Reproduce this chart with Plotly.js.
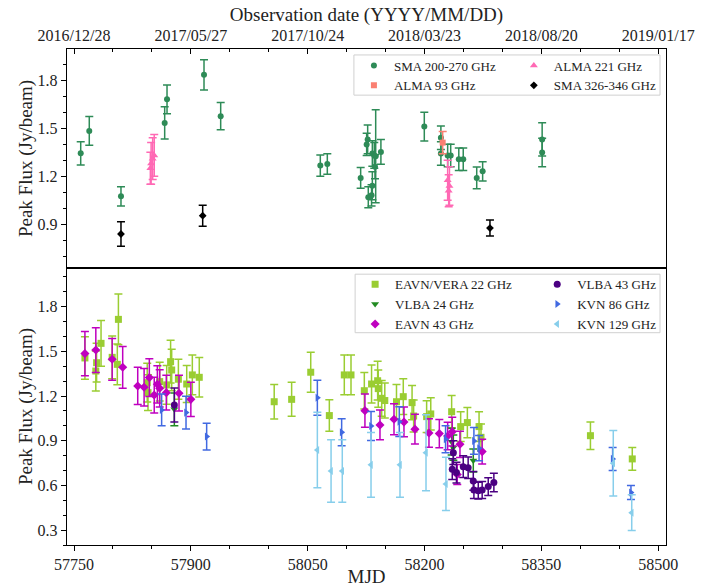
<!DOCTYPE html>
<html>
<head>
<meta charset="utf-8">
<script src="https://cdn.plot.ly/plotly-3.0.1.min.js"></script>
<style>html,body{margin:0;padding:0;background:#fff;}#chart{width:724px;height:587px;}</style>
</head>
<body>
<div id="chart"></div>
<script>
// ---------- Top panel data ----------
const sma230_mjd = [57758.6,57769.6,57810.3,57866.4,57869.4,57916.9,57938.3,58066.2,58075.2,58118,58125.7,58127,58127.8,58132,58133,58133,58135.5,58136.4,58137.3,58144,58199.7,58221,58221,58229.7,58233.6,58244,58249.7,58267,58274.6,58351,58351];
const sma230_flux = [1.343,1.483,1.075,1.533,1.68,1.833,1.575,1.267,1.277,1.19,1.399,1.43,1.069,1.081,1.141,1.342,1.33,1.26,1.325,1.352,1.51,1.44,1.342,1.33,1.33,1.306,1.306,1.19,1.231,1.43,1.348];
const sma230_err  = [0.073,0.09,0.06,0.10,0.09,0.094,0.085,0.066,0.064,0.065,0.07,0.09,0.066,0.066,0.088,0.08,0.08,0.075,0.29,0.077,0.09,0.073,0.073,0.07,0.07,0.07,0.07,0.068,0.06,0.104,0.089];

const alma93_mjd = [58223.3];
const alma93_flux = [1.41];
const alma93_err = [0.07];

const alma221_mjd = [57848,57849,57851,57853,58229.7,58231,58232];
const alma221_flux = [1.25,1.28,1.31,1.33,1.175,1.11,1.14];
const alma221_err = [0.10,0.13,0.13,0.13,0.125,0.10,0.12];

const sma340_mjd = [57810.3,57915.2,58284];
const sma340_flux = [0.84,0.954,0.877];
const sma340_err = [0.077,0.065,0.05];

// ---------- Bottom panel data ----------
const eavn22_mjd = [57764,57778,57779,57784.7,57799,57805.6,57807,57844,57845,57860,57869,57874,57875.4,57884,57894.7,57901.9,57910.8,58007,58029.4,58053.9,58077.8,58097,58105.6,58122.7,58132,58139.8,58140.6,58145,58149,58164,58172.7,58184,58186,58202.7,58208,58234.8,58246.4,58255,58270,58272.5,58413,58466.7];
const eavn22_flux = [1.456,1.368,1.424,1.554,1.46,1.413,1.715,1.29,1.223,1.297,1.275,1.431,1.375,1.313,1.281,1.342,1.326,1.162,1.178,1.36,1.069,1.342,1.342,1.236,1.281,1.303,1.25,1.185,1.17,1.162,1.196,1.156,1.066,1.062,1.08,1.095,0.995,1.022,0.995,0.923,0.934,0.778];
const eavn22_err = [0.143,0.134,0.13,0.154,0.144,0.137,0.17,0.13,0.12,0.13,0.13,0.143,0.14,0.134,0.124,0.133,0.133,0.116,0.114,0.134,0.106,0.134,0.134,0.123,0.128,0.13,0.125,0.12,0.117,0.116,0.12,0.115,0.107,0.106,0.108,0.108,0.1,0.102,0.1,0.09,0.092,0.076];

const vlba24_mjd = [57878.8,58234.8,58237,58262.6];
const vlba24_flux = [1.111,0.894,0.854,0.767];
const vlba24_err = [0.11,0.09,0.085,0.077];

const eavn43_mjd = [57764,57778,57799,57812.5,57831.8,57840,57846.7,57853,57857,57860,57868.5,57884.8,57900,58123.5,58142.8,58160.8,58173.6,58187.7,58205.7,58219,58229.7,58235.6,58242,58245.5,58274];
const eavn43_flux = [1.485,1.509,1.447,1.393,1.268,1.259,1.324,1.207,1.279,1.252,1.223,1.219,1.178,1.102,1.006,1.044,1.026,0.978,0.952,0.948,0.932,0.961,0.673,0.876,0.827];
const eavn43_err = [0.149,0.15,0.14,0.14,0.125,0.126,0.127,0.12,0.125,0.125,0.117,0.12,0.115,0.112,0.1,0.104,0.1,0.1,0.095,0.095,0.093,0.096,0.067,0.088,0.083];

const vlba43_mjd = [57878.8,58237,58235.6,58241,58249.7,58256,58262.6,58263.4,58269,58274,58281.8,58289];
const vlba43_flux = [1.14,0.82,0.709,0.686,0.726,0.719,0.63,0.57,0.565,0.57,0.592,0.619];
const vlba43_err = [0.114,0.08,0.07,0.069,0.073,0.072,0.063,0.057,0.057,0.057,0.06,0.062];

const kvn86_mjd = [57862.5,57893.8,57920.3,58062.4,58093.6,58131.3,58167.6,58227,58263.4,58270,58441.5,58465];
const kvn86_flux = [1.107,1.089,0.928,1.189,0.957,0.999,1.028,0.91,0.899,0.85,0.778,0.552];
const kvn86_err = [0.107,0.11,0.09,0.117,0.09,0.098,0.1,0.09,0.09,0.085,0.077,0.047];

const kvn129_mjd = [58062.4,58080,58094.4,58131.3,58168.5,58201.9,58227.5,58442.3,58466];
const kvn129_flux = [0.838,0.697,0.697,0.738,0.738,0.82,0.61,0.749,0.417];
const kvn129_err = [0.254,0.21,0.21,0.218,0.218,0.255,0.179,0.22,0.12];

// ticks
const mjdTicks = [57750,57900,58050,58200,58350,58500];
const dateLabels = ['2016/12/28','2017/05/27','2017/10/24','2018/03/23','2018/08/20','2019/01/17'];

const FONT = 'Liberation Serif, DejaVu Serif, serif';

function tr(name, x, y, e, color, symbol, xa, ya, leg, size) {
  return {
    type: 'scatter', mode: 'markers', name: name, x: x, y: y,
    xaxis: xa, yaxis: ya, legend: leg,
    marker: {color: color, symbol: symbol, size: size || 7},
    error_y: {type: 'data', array: e, visible: true, color: color, thickness: 1.5, width: 4}
  };
}

const data = [
  tr('SMA 200-270 GHz', sma230_mjd, sma230_flux, sma230_err, '#2E8B57', 'circle', 'x2', 'y2', 'legend', 6),
  tr('ALMA 93 GHz', alma93_mjd, alma93_flux, alma93_err, '#FA8072', 'square', 'x2', 'y2', 'legend', 6),
  tr('ALMA 221 GHz', alma221_mjd, alma221_flux, alma221_err, '#FF69B4', 'triangle-up', 'x2', 'y2', 'legend2', 7),
  tr('SMA 326-346 GHz', sma340_mjd, sma340_flux, sma340_err, '#000000', 'diamond', 'x2', 'y2', 'legend2', 6),

  tr('EAVN/VERA 22 GHz', eavn22_mjd, eavn22_flux, eavn22_err, '#9ACD32', 'square', 'x', 'y', 'legend3', 7),
  tr('VLBA 24 GHz', vlba24_mjd, vlba24_flux, vlba24_err, '#228B22', 'triangle-down', 'x', 'y', 'legend3', 7),
  tr('EAVN 43 GHz', eavn43_mjd, eavn43_flux, eavn43_err, '#BF00BF', 'diamond', 'x', 'y', 'legend3', 7),
  tr('VLBA 43 GHz', vlba43_mjd, vlba43_flux, vlba43_err, '#4B0082', 'circle', 'x', 'y', 'legend4', 7),
  tr('KVN 86 GHz', kvn86_mjd, kvn86_flux, kvn86_err, '#4169E1', 'triangle-right', 'x', 'y', 'legend4', 7),
  tr('KVN 129 GHz', kvn129_mjd, kvn129_flux, kvn129_err, '#87CEEB', 'triangle-left', 'x', 'y', 'legend4', 7)
];

const split = 0.5585;
const axCommon = {
  showgrid: false, zeroline: false, showline: true, linecolor: '#000', linewidth: 1.2,
  ticks: 'outside', ticklen: 5, tickwidth: 1, tickcolor: '#000',
  tickfont: {family: FONT, size: 16, color: '#222'}
};
const legCommon = {
  orientation: 'v', xanchor: 'left', yanchor: 'top',
  bgcolor: 'rgba(0,0,0,0)', borderwidth: 0,
  font: {family: FONT, size: 13, color: '#222'}, traceorder: 'normal'
};

const layout = {
  width: 724, height: 587,
  margin: {l: 67, r: 58, t: 49, b: 42},
  paper_bgcolor: '#fff', plot_bgcolor: '#fff',
  font: {family: FONT, color: '#222'},
  xaxis: Object.assign({}, axCommon, {
    anchor: 'y', domain: [0, 1], range: [57741, 58510], mirror: true,
    tickvals: mjdTicks, ticktext: mjdTicks.map(String),
    minor: {dtick: 50, tick0: 57750, ticklen: 3, ticks: 'outside', tickcolor: '#000'},
    title: {text: 'MJD', font: {family: FONT, size: 19, color: '#222'}, standoff: 3}
  }),
  xaxis2: Object.assign({}, axCommon, {
    anchor: 'y2', matches: 'x', side: 'top', range: [57741, 58510], mirror: true,
    ticks: 'inside',
    tickvals: mjdTicks, ticktext: dateLabels,
    minor: {dtick: 50, tick0: 57750, ticklen: 3, ticks: 'inside', tickcolor: '#000'},
    title: {text: 'Observation date (YYYY/MM/DD)', font: {family: FONT, size: 19, color: '#222'}, standoff: 0}
  }),
  yaxis: Object.assign({}, axCommon, {
    anchor: 'x', domain: [0, split], range: [0.2, 2.06], mirror: true,
    tick0: 0, dtick: 0.3, tickformat: '.1f',
    minor: {dtick: 0.1, tick0: 0, ticklen: 3, ticks: 'outside', tickcolor: '#000'},
    title: {text: 'Peak Flux (Jy/beam)', font: {family: FONT, size: 19, color: '#222'}, standoff: 0}
  }),
  yaxis2: Object.assign({}, axCommon, {
    anchor: 'x2', domain: [split, 1], range: [0.628, 1.994], mirror: true,
    tick0: 0, dtick: 0.3, tickformat: '.1f',
    minor: {dtick: 0.1, tick0: 0, ticklen: 3, ticks: 'outside', tickcolor: '#000'},
    title: {text: 'Peak Flux (Jy/beam)', font: {family: FONT, size: 19, color: '#222'}, standoff: 0}
  }),
  legend: Object.assign({}, legCommon, {x: 0.479, y: 0.997}),
  legend2: Object.assign({}, legCommon, {x: 0.746, y: 0.997}),
  legend3: Object.assign({}, legCommon, {x: 0.481, y: 0.556}),
  legend4: Object.assign({}, legCommon, {x: 0.785, y: 0.556}),
  shapes: [
    {type: 'rect', xref: 'paper', yref: 'paper', x0: 0.479, x1: 0.99, y0: 0.907, y1: 0.988,
     line: {color: '#d0d0d0', width: 1}, fillcolor: 'rgba(255,255,255,0.8)', layer: 'above'},
    {type: 'rect', xref: 'paper', yref: 'paper', x0: 0.481, x1: 0.99, y0: 0.428, y1: 0.546,
     line: {color: '#d0d0d0', width: 1}, fillcolor: 'rgba(255,255,255,0.8)', layer: 'above'}
  ],
  showlegend: true
};

Plotly.newPlot('chart', data, layout, {displayModeBar: false, staticPlot: true});
</script>
</body>
</html>
